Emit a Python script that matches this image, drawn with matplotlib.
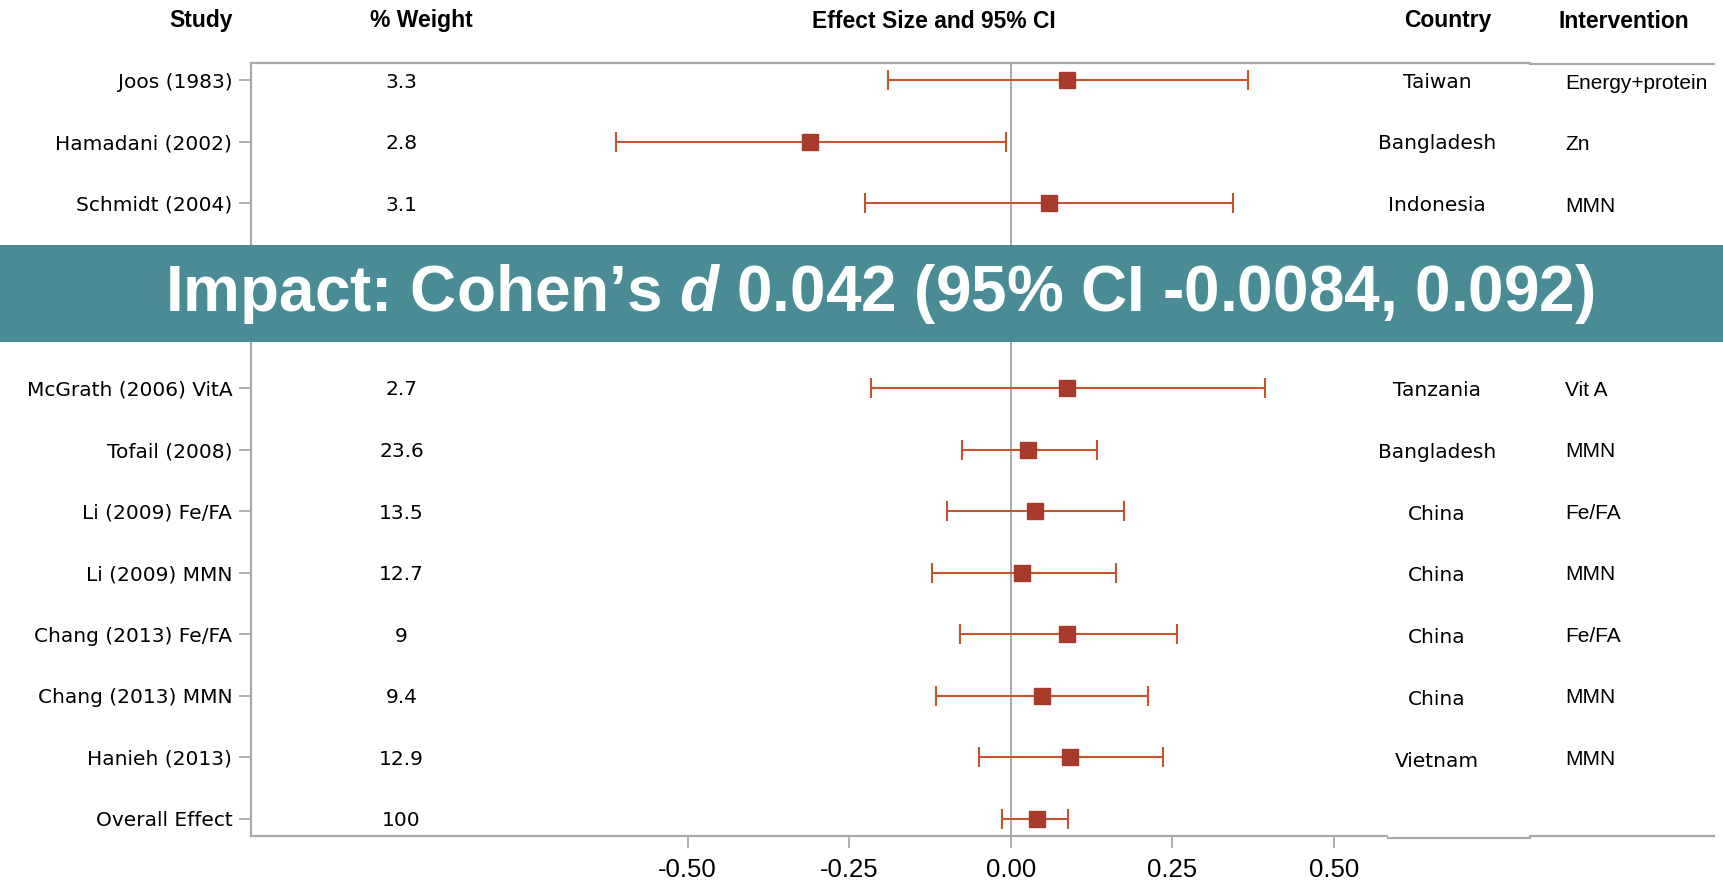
import matplotlib
matplotlib.use("Agg")
import matplotlib.pyplot as plt
import numpy as np
from matplotlib.patches import Rectangle

plt.rcParams['font.family'] = ['Liberation Sans', 'DejaVu Sans']
plt.rcParams['mathtext.fontset'] = 'custom'
plt.rcParams['mathtext.it'] = 'Liberation Sans:italic:bold'
plt.rcParams['mathtext.rm'] = 'Liberation Sans:bold'

# ---- data (two rows are hidden behind the banner) ----
studies = ["Joos (1983)", "Hamadani (2002)", "Schmidt (2004)", "", "",
           "McGrath (2006) VitA", "Tofail (2008)", "Li (2009) Fe/FA", "Li (2009) MMN",
           "Chang (2013) Fe/FA", "Chang (2013) MMN", "Hanieh (2013)", "Overall Effect"]
weights = ["3.3", "2.8", "3.1", "", "", "2.7", "23.6", "13.5", "12.7", "9", "9.4", "12.9", "100"]
effect = [0.087, -0.311, 0.060, np.nan, np.nan, 0.087, 0.027, 0.037, 0.017, 0.087, 0.049, 0.092, 0.040]
ci_low = [-0.190, -0.611, -0.226, np.nan, np.nan, -0.216, -0.075, -0.099, -0.122, -0.078, -0.116, -0.049, -0.013]
ci_high = [0.367, -0.007, 0.344, np.nan, np.nan, 0.393, 0.133, 0.175, 0.163, 0.257, 0.213, 0.235, 0.088]
countries = ["Taiwan", "Bangladesh", "Indonesia", "", "", "Tanzania", "Bangladesh", "China",
             "China", "China", "China", "Vietnam", ""]
interventions = ["Energy+protein", "Zn", "MMN", "", "", "Vit A", "MMN", "Fe/FA", "MMN",
                 "Fe/FA", "MMN", "MMN", ""]
xticks = [-0.50, -0.25, 0.00, 0.25, 0.50]
xticklabels = ["-0.50", "-0.25", "0.00", "0.25", "0.50"]
headers = ["Study", "% Weight", "Effect Size and 95% CI", "Country", "Intervention"]
banner_text = "Impact: Cohen\u2019s $d$ 0.042 (95% CI -0.0084, 0.092)"

W, H = 1723, 885
fig = plt.figure(figsize=(W / 100, H / 100), dpi=100)

def fx(px):
    return px / W

def fy(py):
    return 1 - py / H

spine_col = '#A6AAAE'
line_col = '#C4552E'
mark_col = '#A83A2B'
body_font = ['DejaVu Sans']
body_size = 14.5

ax = fig.add_axes([fx(251), fy(836), fx(1388) - fx(251), fy(63) - fy(836)])
y = np.arange(len(studies))
eff = np.array(effect)
lo = np.array(ci_low)
hi = np.array(ci_high)
ax.errorbar(eff, y, xerr=[eff - lo, hi - eff], fmt='s', color=line_col,
            mfc=mark_col, mec=mark_col, ms=11.5, elinewidth=1.5, capsize=7.4,
            capthick=1.5, zorder=3)
ax.axvline(0, color=spine_col, lw=1.4, zorder=1)
ax.set_xlim(-1.176, 0.584)
ax.set_ylim(len(studies) - 1 + 0.28, -0.28)
ax.set_yticks(y)
ax.set_yticklabels(studies, fontsize=body_size, family=body_font)
ax.set_xticks(xticks)
ax.set_xticklabels(xticklabels, fontsize=18.5)
ax.tick_params(axis='y', length=8.5, width=1.3, color=spine_col, pad=5)
ax.tick_params(axis='x', length=8.5, width=1.3, color=spine_col, pad=7)
for s in ['left', 'top', 'bottom']:
    ax.spines[s].set_color(spine_col)
    ax.spines[s].set_linewidth(1.6)
ax.spines['right'].set_visible(False)

for yi, w in zip(y, weights):
    ax.text(-0.943, yi, w, ha='center', va='center_baseline', fontsize=body_size,
            family=body_font)

# Country and intervention columns
axc = fig.add_axes([fx(1388), fy(838), fx(1530) - fx(1388), fy(63) - fy(838)], sharey=ax)
axi = fig.add_axes([fx(1530), fy(836), fx(1714) - fx(1530), fy(64) - fy(836)], sharey=ax)
for a in (axc, axi):
    a.set_xlim(0, 1)
    a.tick_params(left=False, bottom=False, labelleft=False, labelbottom=False)
    for s in ['left', 'right']:
        a.spines[s].set_visible(False)
    for s in ['top', 'bottom']:
        a.spines[s].set_color(spine_col)
        a.spines[s].set_linewidth(1.6)
for yi, c in zip(y, countries):
    axc.text(0.345, yi, c, ha='center', va='center_baseline', fontsize=body_size,
             family=body_font)
for yi, iv in zip(y, interventions):
    axi.text(0.19, yi, iv, ha='left', va='center_baseline', fontsize=15)

# Headers
header_x = [201, 421, 934, 1448, 1624]
for hx, h in zip(header_x, headers):
    fig.text(fx(hx), fy(21), h, ha='center', va='center', fontsize=16.5, fontweight='bold')

# Banner
fig.add_artist(Rectangle((0, fy(342)), 1, fy(245) - fy(342), transform=fig.transFigure,
                         facecolor='#4A8C96', edgecolor='none', zorder=10))
fig.text(fx(880), fy(294), banner_text, ha='center', va='center', color='white',
         fontsize=46, fontweight='bold', zorder=11)

fig.savefig('out.png', dpi=100)
